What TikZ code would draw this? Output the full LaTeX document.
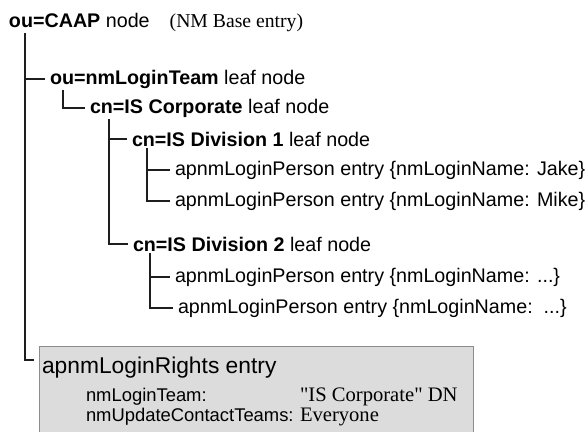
\documentclass[tikz,border=0pt]{standalone}
\usepackage{fontspec}
\setmainfont{Liberation Sans}
\newfontfamily\romanfont{Liberation Serif}
\usetikzlibrary{positioning,calc}
\definecolor{treeline}{HTML}{1E1E1E}
\definecolor{boxgray}{HTML}{DCDCDC}
\definecolor{boxedge}{HTML}{8C8C8C}
\tikzset{font=\fontsize{9.85}{11.8}\selectfont}
\tikzset{tree/.style={draw=treeline, line width=1.2pt},
	rightsbox/.style={draw=boxedge, fill=boxgray, line width=0.5pt, anchor=north west,
		minimum width=217pt, minimum height=52pt, inner sep=0pt},
	boxtitle/.style={font=\fontsize{11.4}{13}\selectfont},
	boxkey/.style={font=\fontsize{9.2}{10.8}\selectfont},
	boxval/.style={font=\fontsize{10.3}{12}\romanfont}}

\begin{document}
\begin{tikzpicture}[x=0.5pt, y=-0.5pt]
	\useasboundingbox (0,0) rectangle (588,432);
	\begin{scope}
		\tikzstyle{every node}=[anchor=west, inner sep=0pt, outer xsep=2.5pt, outer ysep=1pt]
		\node (caap) at (4, 22) {\textbf{ou=CAAP} node\hspace{10pt}{\romanfont(NM Base entry)}};
		\node (team) at (45, 79) {\textbf{ou=nmLoginTeam} leaf node};
		\node (corp) at (85, 108) {\textbf{cn=IS Corporate} leaf node};
		\node (div1) at (127, 139) {\textbf{cn=IS Division 1} leaf node};
		\node (jake) at (170, 170) {apnmLoginPerson entry \{nmLoginName: Jake\}};
		\node (mike) at (170, 201) {apnmLoginPerson entry \{nmLoginName: Mike\}};
		\node (div2) at (128, 244) {\textbf{cn=IS Division 2} leaf node};
		\node (pers3) at (170, 277) {apnmLoginPerson entry \{nmLoginName: ...\}};
		\node (pers4) at (173, 308) {apnmLoginPerson entry \{nmLoginName:\ \ ...\}};

		% rights entry box, cut off at the bottom
		\node[rightsbox] (rights) at (34, 344) {};
		\node[boxtitle] (rtitle) at (37, 368) {apnmLoginRights entry};
		\node[boxkey] (rteam) at (81, 397) {nmLoginTeam:};
		\node[boxval] (rteamval) at (295, 397) {"IS Corporate" DN};
		\node[boxkey] (rupd) at (81, 417) {nmUpdateContactTeams:};
		\node[boxval] (rupdval) at (295, 417) {Everyone};

		\draw[tree                ](caap.south west) ++(21,0) |- (team.west);
		\draw[tree                ](caap.south west) ++(21,0) |- ([yshift=-8pt]rights.north west);
		\draw[tree                ](team.south west) ++(18,0) |- (corp.west);
		\draw[tree                ](corp.south west) ++(24,0) |- (div1.west);
		\draw[tree                ](corp.south west) ++(24,0) |- (div2.west);
		\draw[tree                ](div1.south west) ++(20,0) |- (jake.west);
		\draw[tree                ](div1.south west) ++(20,0) |- (mike.west);
		\draw[tree                ](div2.south west) ++(22,0) |- (pers3.west);
		\draw[tree                ](div2.south west) ++(22,0) |- (pers4.west);
	\end{scope}
\end{tikzpicture}
\end{document}
